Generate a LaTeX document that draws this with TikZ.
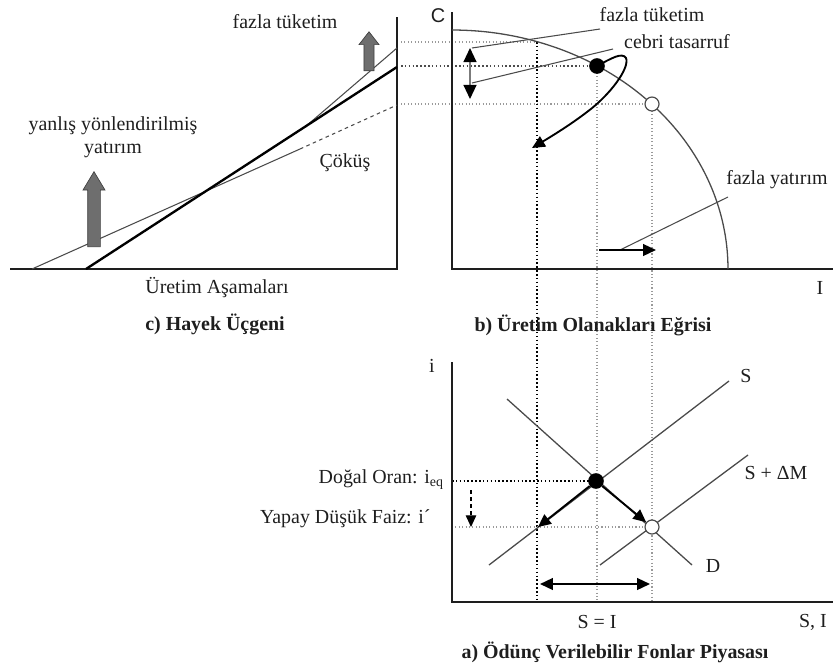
\documentclass[tikz,border=0pt]{standalone}
\usepackage{fontspec}
\setmainfont{Liberation Serif}
\setsansfont{Liberation Sans}
\usetikzlibrary{arrows.meta,shapes.arrows}
\definecolor{ink}{HTML}{1E1E1E}
\definecolor{curve}{HTML}{4A4A4A}
\definecolor{dotgray}{HTML}{9A9A9A}
\definecolor{blockfill}{HTML}{6E6E6E}
\tikzset{
  every node/.style={font=\fontsize{17}{20}\selectfont,text=ink,inner sep=1pt},
  axis/.style={draw=ink,line width=1.3pt},
  hayek/.style={draw=black,line width=2pt},
  thinline/.style={draw=curve,line width=0.9pt},
  market/.style={draw=curve,line width=1.1pt},
  guide/.style={draw=dotgray,line width=0.9pt,dotted},
  guidedark/.style={draw=black,line width=1.3pt,dotted},
  arrow/.style={-{Triangle[length=11pt,width=10pt]},line width=1.6pt,draw=black},
  twoway/.style={{Triangle[length=11pt,width=10pt]}-{Triangle[length=11pt,width=10pt]},line width=1.6pt,draw=black},
  blockarr/.style={single arrow,draw=black!75,fill=blockfill,rotate=90,inner xsep=0pt,line width=0.6pt},
  bigdot/.style={circle,fill=black,minimum size=0.47cm,inner sep=0pt},
  opendot/.style={circle,draw=curve,line width=1pt,fill=white,minimum size=0.42cm,inner sep=0pt},
  title/.style={font=\fontsize{17}{20}\selectfont\bfseries},
}

\begin{document}
\begin{tikzpicture}[x=0.03cm,y=-0.03cm]
  \useasboundingbox (0,0) rectangle (834,666);

  % c) Hayek triangle
  \coordinate (hl) at (10,269);
  \coordinate (ho) at (397,269);
  \coordinate (ht) at (397,17);
  \coordinate (ha) at (86,269);
  \coordinate (hb) at (397,67);
  \coordinate (hc) at (32,269);
  \coordinate (hd) at (300,149);
  \coordinate (he) at (397,105);
  \coordinate (hf) at (305,127);
  \coordinate (hg) at (397,48);
  \draw[axis] (hl) -- (ho) -- (ht);
  \draw[thinline] (hc) -- (hd);
  \draw[thinline,dashed] (hd) -- (he);
  \draw[thinline] (hf) -- (hg);
  \draw[hayek] (ha) -- (hb);
  \node[blockarr,minimum height=2.25cm,inner ysep=0.18cm,single arrow head extend=0.14cm,single arrow tip angle=62] (up1) at (94,214.5) {};
  \node[blockarr,minimum height=1.17cm,inner ysep=0.14cm,single arrow head extend=0.15cm,single arrow tip angle=76] (up2) at (369,54.5) {};
  \node (htuk) at (285,22) {fazla tüketim};
  \node[align=center] (hyat) at (113,137) {yanlış yönlendirilmiş\\yatırım};
  \node (hcok) at (345,163) {Çöküş};
  \node (hase) at (217,288) {Üretim Aşamaları};
  \node[title] (htit) at (215,324) {c) Hayek Üçgeni};

  % b) production possibilities
  \coordinate (po) at (452,269);
  \coordinate (pc) at (452,12);
  \coordinate (pi) at (833,269);
  \coordinate (px) at (537,42);
  \coordinate (g1) at (401,42);
  \coordinate (g2) at (401,66);
  \coordinate (g3) at (401,104);
  \coordinate (v1) at (537,602);
  \coordinate (v2) at (597,602);
  \coordinate (v3) at (652,602);
  \draw[guide] (g1) -- (px);
  \draw[guidedark,draw=black!70,line width=1pt] (g2) -- (597,66);
  \draw[guide] (g3) -- (652,104);
  \draw[guidedark] (px) -- (v1);
  \draw[guide] (597,66) -- (v2);
  \draw[guide] (652,104) -- (v3);
  \draw[axis] (pc) -- (po) -- (pi);
  \draw[thinline,line width=1.1pt] plot[domain=0:90,samples=80] ({452+276*cos(\x)},{269-239*sin(\x)});
  \node[bigdot] (pe) at (597,66) {};
  \node[opendot] (pn) at (652,104) {};
  \coordinate (t1) at (600,29);
  \coordinate (t2) at (472,48);
  \coordinate (t3) at (613,49);
  \coordinate (t4) at (472,83);
  \draw[thinline] (t1) -- (t2);
  \draw[thinline] (t3) -- (t4);
  \coordinate (c1) at (470,48);
  \coordinate (c2) at (470,99);
  \draw[{Triangle[color=black,length=12pt,width=11pt]}-{Triangle[color=black,length=12pt,width=11pt]},draw=dotgray!80!black,line width=1.4pt] (c1) -- (c2);
  \coordinate (pk) at (532,148);
  \draw[arrow] (pe.center) .. controls (612,58) and (622,52) .. (626,58)
    .. controls (630,68) and (610,95) .. (587,112)
    .. controls (570,125) and (552,136) .. (pk);
  \coordinate (r1) at (728,197);
  \coordinate (r2) at (620,250);
  \coordinate (r3) at (599,250);
  \coordinate (r4) at (656,250);
  \draw[thinline] (r1) -- (r2);
  \draw[arrow] (r3) -- (r4);
  \node[font=\fontsize{17}{20}\sffamily] (pcl) at (438,16) {C};
  \node (pil) at (820,288) {I};
  \node (ptuk) at (652,15) {fazla tüketim};
  \node (pceb) at (677,42) {cebri tasarruf};
  \node (pyat) at (777,180) {fazla yatırım};
  \node[title] (ptit) at (593,325) {b) Üretim Olanakları Eğrisi};

  % a) loanable funds
  \coordinate (ao) at (452,602);
  \coordinate (ai) at (452,362);
  \coordinate (as) at (833,602);
  \coordinate (s1) at (489,565);
  \coordinate (s2) at (729,381);
  \coordinate (d1) at (507,399);
  \coordinate (d2) at (692,565);
  \coordinate (m1) at (600,565);
  \coordinate (m2) at (748,455);
  \coordinate (q1) at (452,481);
  \coordinate (q2) at (452,527);
  \draw[guidedark] (q1) -- (596,481);
  \draw[guide] (q2) -- (652,527);
  \draw[axis] (ai) -- (ao) -- (as);
  \draw[market] (s1) -- (s2);
  \draw[market] (d1) -- (d2);
  \draw[market] (m1) -- (m2);
  \node[bigdot] (ae) at (596,481) {};
  \node[opendot] (an) at (652,527) {};
  \coordinate (al) at (538,527);
  \draw[arrow] (ae) -- (al);
  \draw[arrow] (ae) -- (an);
  \coordinate (k1) at (471,490);
  \coordinate (k2) at (471,527);
  \draw[-{Triangle[length=10pt,width=9pt]},draw=black,line width=0.9pt,dashed] (k1) -- (k2);
  \coordinate (w1) at (540,584);
  \coordinate (w2) at (650,584);
  \draw[twoway] (w1) -- (w2);
  \node (ail) at (432,366) {i};
  \node (asl) at (746,376) {S};
  \node (aml) at (776,473) {S + ΔM};
  \node (adl) at (713,566) {D};
  \node (asi) at (597,622) {S = I};
  \node (axl) at (813,622) {S, I};
  \node[anchor=east] (aeq) at (445,480) {Doğal Oran: i$_{\mathrm{eq}}$};
  \node[anchor=east] (alo) at (432,519) {Yapay Düşük Faiz: i´};
  \node[title] (atit) at (615,652) {a) Ödünç Verilebilir Fonlar Piyasası};
\end{tikzpicture}
\end{document}
